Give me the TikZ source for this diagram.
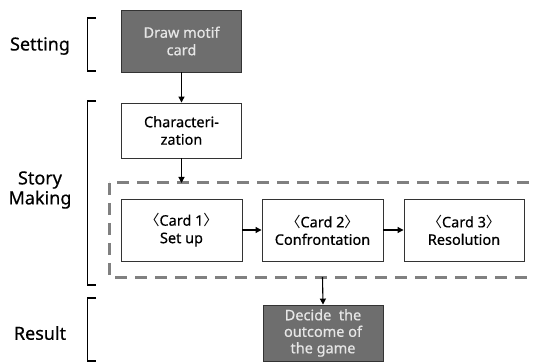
\documentclass[tikz,border=0pt]{standalone}
\usepackage{fontspec}
\setmainfont{Noto Sans}[FakeBold=0.5]
\newfontfamily\cjk{Noto Sans CJK KR}
\usetikzlibrary{arrows.meta}
\definecolor{darkbox}{HTML}{6E6E6E}
\definecolor{lighttxt}{HTML}{E6E6E6}
\definecolor{dashgray}{HTML}{808080}
\tikzset{
  stepbox/.style={draw=black!80, line width=0.9pt, fill=white, minimum width=120pt, minimum height=62pt, align=center, inner sep=1pt, font=\fontsize{14.5}{17.5}\selectfont},
  darkstep/.style={stepbox, fill=darkbox, text=lighttxt},
  conn/.style={-{Triangle[length=6pt,width=6pt]}, line width=1.1pt},
  brk/.style={line width=1.2pt},
  lbl/.style={font=\fontsize{18}{20}\selectfont, align=center},
}
\newcommand{\la}{{\cjk 〈}}
\newcommand{\ra}{{\cjk 〉}}
\begin{document}
\begin{tikzpicture}[x=1pt,y=-1pt]
\useasboundingbox (0,0) rectangle (535,363);
% dashed group (right edge lies outside the picture)
\begin{scope}
\clip (0,0) rectangle (535,363);
\draw[dashgray, line width=3pt, dash pattern=on 12pt off 8pt] (109,183) rectangle (545,277);
\end{scope}
% nodes
\node[darkstep, minimum height=62pt] (motif) at (181.5,41) {Draw motif\\card};
\node[stepbox, minimum height=55pt] (char) at (181.5,130.5) {Characteri-\\zation};
\node[stepbox, minimum width=121pt] (c1) at (181.5,230) {\la Card 1\ra\\Set up};
\node[stepbox, minimum width=121pt] (c2) at (322.5,230) {\la Card 2\ra\\Confrontation};
\node[stepbox, minimum width=120pt] (c3) at (464,230) {\la Card 3\ra\\Resolution};
\node[darkstep, minimum height=56pt, font=\fontsize{14.5}{16.5}\selectfont] (dec) at (323,333) {Decide~ the\\outcome of\\the game};
\coordinate (gtop) at (181.5,183);
\coordinate (gbot) at (322.5,277);
% connectors
\draw[conn] (motif.south) -- (char.north);
\draw[conn] (char.south) -- (gtop);
\draw[conn] (c1.east) -- (c2.west);
\draw[conn] (c2.east) -- (c3.west);
\draw[conn] (gbot) -- (dec.north);
% labels
\node[lbl] (lset) at (40,46) {Setting};
\node[lbl] (lstory) at (40,190) {Story\\Making};
\node[lbl] (lres) at (40,333) {Result};
% brackets
\draw[brk] (96,18) -- (87.5,18) -- (87.5,71) -- (96,71);
\draw[brk] (96,101) -- (87.5,101) -- (87.5,285) -- (96,285);
\draw[brk] (96,298) -- (87.5,298) -- (87.5,361) -- (96,361);
\end{tikzpicture}
\end{document}
